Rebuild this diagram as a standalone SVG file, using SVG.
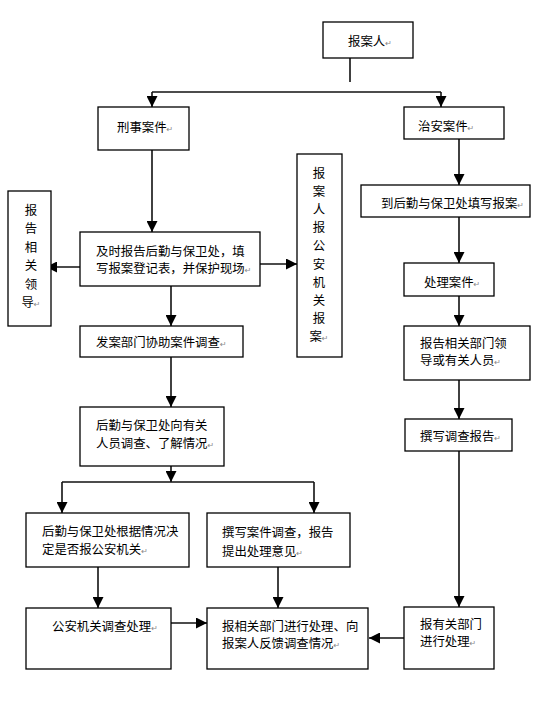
<svg xmlns="http://www.w3.org/2000/svg" width="545" height="711" viewBox="0 0 545 711">
<defs>
<style>
.box{fill:#fff;stroke:#000;stroke-width:1.3}
.t{font-family:"Noto Sans CJK SC","Liberation Sans",sans-serif;font-size:12.4px;fill:#000}
.vt{font-family:"Noto Sans CJK SC","Liberation Sans",sans-serif;font-size:12.4px;fill:#000;text-anchor:middle}
.pm{font-family:"DejaVu Sans",sans-serif;font-size:8px;fill:#888}
.c{stroke:#111;stroke-width:1.6;fill:none}
</style>
<marker id="ah" viewBox="0 0 10 10" refX="10" refY="5" markerWidth="11" markerHeight="11" markerUnits="userSpaceOnUse" orient="auto">
<path d="M0,0 L10,5 L0,10 z" fill="#000"/>
</marker>
</defs>
<rect width="545" height="711" fill="#fff"/>
<g id="connectors">
<line class="c" x1="350" y1="58" x2="350" y2="82"/>
<line class="c" x1="152" y1="92" x2="441" y2="92"/>
<line class="c" x1="152" y1="92" x2="152" y2="107" marker-end="url(#ah)"/>
<line class="c" x1="441" y1="92" x2="441" y2="107" marker-end="url(#ah)"/>
<line class="c" x1="152" y1="150" x2="152" y2="232" marker-end="url(#ah)"/>
<line class="c" x1="80" y1="267" x2="46" y2="267" marker-end="url(#ah)"/>
<line class="c" x1="260" y1="264" x2="297" y2="264" marker-end="url(#ah)"/>
<line class="c" x1="171" y1="286" x2="171" y2="326" marker-end="url(#ah)"/>
<line class="c" x1="171" y1="357" x2="171" y2="407" marker-end="url(#ah)"/>
<line class="c" x1="171" y1="466" x2="171" y2="482" marker-end="url(#ah)"/>
<line class="c" x1="62" y1="482" x2="314" y2="482"/>
<line class="c" x1="62" y1="482" x2="62" y2="513" marker-end="url(#ah)"/>
<line class="c" x1="314" y1="482" x2="314" y2="513" marker-end="url(#ah)"/>
<line class="c" x1="98" y1="567" x2="98" y2="608" marker-end="url(#ah)"/>
<line class="c" x1="278" y1="567" x2="278" y2="608" marker-end="url(#ah)"/>
<line class="c" x1="171" y1="623" x2="207" y2="623" marker-end="url(#ah)"/>
<line class="c" x1="404" y1="638" x2="369" y2="638" marker-end="url(#ah)"/>
<line class="c" x1="459" y1="139" x2="459" y2="185" marker-end="url(#ah)"/>
<line class="c" x1="459" y1="217" x2="459" y2="263" marker-end="url(#ah)"/>
<line class="c" x1="459" y1="296" x2="459" y2="326" marker-end="url(#ah)"/>
<line class="c" x1="459" y1="380" x2="459" y2="419" marker-end="url(#ah)"/>
<line class="c" x1="459" y1="451" x2="459" y2="607" marker-end="url(#ah)"/>
</g>
<g id="n-reporter">
<rect class="box" x="323" y="22" width="90" height="36"/>
<text class="t" x="348" y="46">报案人<tspan class="pm">↵</tspan></text>
</g>
<g id="n-criminal">
<rect class="box" x="98" y="107" width="91" height="43"/>
<text class="t" x="117" y="132">刑事案件<tspan class="pm">↵</tspan></text>
</g>
<g id="n-public">
<rect class="box" x="404" y="107" width="100" height="32"/>
<text class="t" x="418" y="131">治安案件<tspan class="pm">↵</tspan></text>
</g>
<g id="n-leader">
<rect class="box" x="8" y="191" width="43" height="135"/>
<text class="vt" x="31" y="214.5">报</text>
<text class="vt" x="31" y="233">告</text>
<text class="vt" x="31" y="251.5">相</text>
<text class="vt" x="31" y="270">关</text>
<text class="vt" x="31" y="288.5">领</text>
<text class="vt" x="31" y="307">导<tspan class="pm">↵</tspan></text>
</g>
<g id="n-report-timely">
<rect class="box" x="80" y="232" width="180" height="54"/>
<text class="t" x="96" y="256">及时报告后勤与保卫处，填</text>
<text class="t" x="96" y="273">写报案登记表，并保护现场<tspan class="pm">↵</tspan></text>
</g>
<g id="n-police-report">
<rect class="box" x="297" y="154" width="45" height="203"/>
<text class="vt" x="319" y="177.5">报</text>
<text class="vt" x="319" y="195.7">案</text>
<text class="vt" x="319" y="213.9">人</text>
<text class="vt" x="319" y="232.1">报</text>
<text class="vt" x="319" y="250.3">公</text>
<text class="vt" x="319" y="268.5">安</text>
<text class="vt" x="319" y="286.7">机</text>
<text class="vt" x="319" y="304.9">关</text>
<text class="vt" x="319" y="323.1">报</text>
<text class="vt" x="319" y="341.3">案<tspan class="pm">↵</tspan></text>
</g>
<g id="n-fill-form">
<rect class="box" x="361" y="185" width="169" height="32"/>
<text class="t" x="381" y="208">到后勤与保卫处填写报案<tspan class="pm">↵</tspan></text>
</g>
<g id="n-handle">
<rect class="box" x="404" y="263" width="90" height="33"/>
<text class="t" x="424" y="287">处理案件<tspan class="pm">↵</tspan></text>
</g>
<g id="n-report-dept">
<rect class="box" x="404" y="326" width="126" height="54"/>
<text class="t" x="420" y="348">报告相关部门领</text>
<text class="t" x="420" y="365">导或有关人员<tspan class="pm">↵</tspan></text>
</g>
<g id="n-assist">
<rect class="box" x="80" y="326" width="163" height="31"/>
<text class="t" x="96" y="347">发案部门协助案件调查<tspan class="pm">↵</tspan></text>
</g>
<g id="n-write-report">
<rect class="box" x="405" y="419" width="107" height="32"/>
<text class="t" x="420" y="441">撰写调查报告<tspan class="pm">↵</tspan></text>
</g>
<g id="n-investigate">
<rect class="box" x="80" y="407" width="144" height="59"/>
<text class="t" x="96" y="430">后勤与保卫处向有关</text>
<text class="t" x="96" y="447.5">人员调查、了解情况<tspan class="pm">↵</tspan></text>
</g>
<g id="n-decide">
<rect class="box" x="26" y="513" width="163" height="54"/>
<text class="t" x="42" y="536">后勤与保卫处根据情况决</text>
<text class="t" x="42" y="554">定是否报公安机关<tspan class="pm">↵</tspan></text>
</g>
<g id="n-write-case">
<rect class="box" x="207" y="513" width="143" height="54"/>
<text class="t" x="222" y="537">撰写案件调查，报告</text>
<text class="t" x="222" y="556">提出处理意见<tspan class="pm">↵</tspan></text>
</g>
<g id="n-police-handle">
<rect class="box" x="26" y="608" width="145" height="61"/>
<text class="t" x="52" y="631">公安机关调查处理<tspan class="pm">↵</tspan></text>
</g>
<g id="n-feedback">
<rect class="box" x="207" y="608" width="161" height="61"/>
<text class="t" x="222" y="631">报相关部门进行处理、向</text>
<text class="t" x="222" y="648">报案人反馈调查情况<tspan class="pm">↵</tspan></text>
</g>
<g id="n-dept-handle">
<rect class="box" x="404" y="607" width="90" height="62"/>
<text class="t" x="420" y="629">报有关部门</text>
<text class="t" x="420" y="646">进行处理<tspan class="pm">↵</tspan></text>
</g>
</svg>
